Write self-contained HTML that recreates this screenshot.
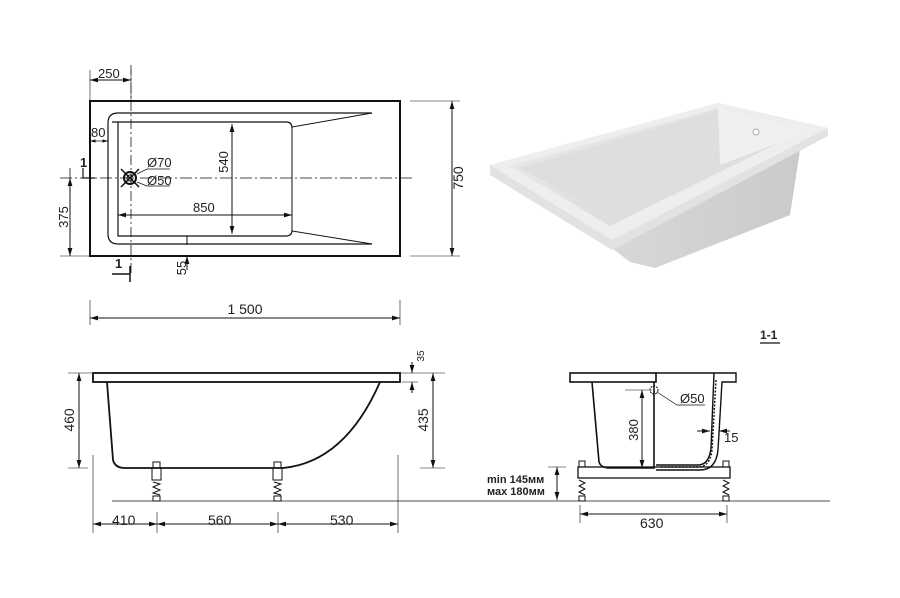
<!DOCTYPE html>
<html><head><meta charset="utf-8"><style>
html,body{margin:0;padding:0;background:#fff;}
svg{display:block;}
text{font-family:"Liberation Sans",Arial,sans-serif;fill:#222;}
</style></head><body>
<svg width="900" height="598" viewBox="0 0 900 598" xmlns="http://www.w3.org/2000/svg">
<defs>
<marker id="a" viewBox="0 0 10 10" refX="10" refY="5" markerWidth="8" markerHeight="8" orient="auto-start-reverse"><path d="M0,2 L10,5 L0,8 z" fill="#111"/></marker>
<linearGradient id="g1" x1="0" y1="0" x2="1" y2="1"><stop offset="0" stop-color="#ebebeb"/><stop offset="1" stop-color="#d6d6d6"/></linearGradient>
<linearGradient id="g2" x1="0" y1="0" x2="1" y2="0"><stop offset="0" stop-color="#d8d8d8"/><stop offset="1" stop-color="#c8c8c8"/></linearGradient>
</defs>
<rect width="900" height="598" fill="#fff"/>

<!-- PHOTO -->
<path d="M612,248 L630,262 L655,268 L790,215 L800,150 L828,135 L612,248 z" fill="url(#g2)"/>
<path d="M490,165 L718,103 L828,128 L828,136 L612,250 L490,175 z" fill="#e2e2e2"/>
<path d="M490,165 L718,103 L828,128 L612,240 z" fill="#eeeeee"/>
<path d="M510,166 L718,108 L805,130 L610,226 z" fill="url(#g1)"/>
<path d="M718,108 L720,165 L800,135 L805,130 z" fill="#f0f0f0"/>
<path d="M520,168 L718,110 L720,165 L615,218 z" fill="#dedede"/>
<circle cx="756" cy="132" r="3" fill="#fff" stroke="#aaa" stroke-width="1"/>

<g stroke="#111" fill="none" stroke-width="1">
<!-- PLAN VIEW -->
<rect x="90" y="101" width="310" height="155" stroke-width="2"/>
<path d="M372,113 L118,113 Q108,113 108,123 L108,234 Q108,244 118,244 L372,244" stroke-width="1.2"/>
<path d="M372,113 L292,127 L292,231 L372,244" stroke-width="1"/>
<path d="M112,122 L286,122 Q292,122 292,128 M118,122 L118,236 L286,236 Q292,236 292,230" stroke-width="1.2"/>
<path d="M60,178 L415,178" stroke-dasharray="12,3,2,3" stroke-width="0.8"/>
<path d="M131,65 L131,275" stroke-dasharray="10,3,2,3" stroke-width="0.8"/>
<circle cx="130" cy="178" r="6" stroke-width="2"/>
<circle cx="130" cy="178" r="3"/>
<path d="M121,169 L139,187 M139,169 L121,187" stroke-width="1.5"/>
<path d="M137,174 L147,169 L170,169 M137,182 L147,186 L170,186" stroke-width="0.7"/>
<path d="M90,70 L90,100 M131,70 L131,100" stroke-width="0.6"/>
<path d="M90,80 L131,80" marker-start="url(#a)" marker-end="url(#a)"/>
<path d="M410,101 L460,101 M410,256 L460,256" stroke-width="0.6"/>
<path d="M452,101 L452,256" marker-start="url(#a)" marker-end="url(#a)"/>
<path d="M90,300 L90,325 M400,300 L400,325" stroke-width="0.6"/>
<path d="M90,318 L400,318" marker-start="url(#a)" marker-end="url(#a)"/>
<path d="M60,256 L90,256" stroke-width="0.6"/>
<path d="M70,178 L70,256" marker-start="url(#a)" marker-end="url(#a)"/>
<path d="M70,178 L70,168" stroke-width="0.8"/>
<path d="M232,124 L232,234" marker-start="url(#a)" marker-end="url(#a)"/>
<path d="M118,215 L292,215" marker-start="url(#a)" marker-end="url(#a)"/>
<path d="M187,236 L187,245 M187,270 L187,256" marker-end="url(#a)"/>
<path d="M90,141 L108,141" marker-start="url(#a)" marker-end="url(#a)" stroke-width="0.7"/>
<path d="M83,168 L83,178 L95,178" stroke-width="1.2"/>
<path d="M112,274 L130,274 M130,266 L130,282" stroke-width="1.5"/>

<!-- SIDE VIEW -->
<rect x="93" y="373" width="307" height="9" stroke-width="1.8"/>
<path d="M107,382 L113,460 Q115,468 125,468 L283,468 Q345,462 380,382" stroke-width="1.8"/>
<path d="M112,501 L830,501" stroke-width="0.8"/>
<g stroke-width="1">
<rect x="153" y="462" width="7" height="6"/><rect x="152" y="468" width="9" height="12"/><path d="M153,482 L160,484 L153,487 L160,490 L153,493 L160,495"/><rect x="153" y="496" width="7" height="5"/>
<rect x="274" y="462" width="7" height="6"/><rect x="273" y="468" width="9" height="12"/><path d="M274,482 L281,484 L274,487 L281,490 L274,493 L281,495"/><rect x="274" y="496" width="7" height="5"/>
</g>
<path d="M93,455 L93,533 M398,455 L398,533 M157,512 L157,533 M278,512 L278,533" stroke-width="0.6"/>
<path d="M93,524 L157,524" marker-start="url(#a)" marker-end="url(#a)"/>
<path d="M157,524 L278,524" marker-start="url(#a)" marker-end="url(#a)"/>
<path d="M278,524 L398,524" marker-start="url(#a)" marker-end="url(#a)"/>
<path d="M68,373 L92,373 M68,468 L88,468" stroke-width="0.6"/>
<path d="M79,373 L79,468" marker-start="url(#a)" marker-end="url(#a)"/>
<path d="M400,373 L445,373 M420,468 L445,468 M402,382 L418,382" stroke-width="0.6"/>
<path d="M433,373 L433,468" marker-start="url(#a)" marker-end="url(#a)"/>
<path d="M412,362 L412,373" marker-end="url(#a)"/>
<path d="M412,393 L412,382" marker-end="url(#a)"/>

<!-- SECTION -->
<rect x="570" y="373" width="86" height="9" stroke-width="1.6"/>
<path d="M592,382 L599,462 Q601,468 610,468 L654,468 L654,382" stroke-width="1.6"/>
<path d="M656,373 L714,373 M714,373 L736,373 L736,382 L722,382 L718,450 Q716,470 700,470 L656,470 M714,373 L711,448 Q709,465 698,465 L656,465" stroke-width="1.4"/>
<path d="M716,380 L712,450 Q710,467 698,467 L660,467" stroke-dasharray="2,1.5" stroke-width="1.4"/>
<circle cx="654" cy="390" r="4" stroke-dasharray="2,1"/>
<path d="M657,392 L677,405 L705,405" stroke-width="0.7"/>
<rect x="578" y="467" width="152" height="11" stroke-width="1.3"/>
<rect x="579" y="461" width="6" height="6"/><rect x="723" y="461" width="6" height="6"/>
<path d="M579,480 L585,483 L579,486 L585,489 L579,492 L585,495 M723,480 L729,483 L723,486 L729,489 L723,492 L729,495"/>
<rect x="579" y="496" width="6" height="5"/><rect x="723" y="496" width="6" height="5"/>
<path d="M580,505 L580,523 M727,505 L727,523" stroke-width="0.6"/>
<path d="M580,514 L727,514" marker-start="url(#a)" marker-end="url(#a)"/>
<path d="M548,467 L566,467" stroke-width="0.6"/>
<path d="M557,467 L557,500" marker-start="url(#a)" marker-end="url(#a)"/>
<path d="M625,390 L652,390" stroke-width="0.6"/>
<path d="M642,390 L642,468" marker-start="url(#a)" marker-end="url(#a)"/>
<path d="M697,431 L710,431" marker-end="url(#a)"/>
<path d="M730,431 L719,431" marker-end="url(#a)"/>
<path d="M760,343 L780,343" stroke-width="1.2"/>
</g>

<!-- TEXT -->
<g font-size="13">
<text x="98" y="78">250</text>
<text x="91" y="137">80</text>
<text x="147" y="167">Ø70</text>
<text x="147" y="185">Ø50</text>
<text x="193" y="212">850</text>
<text transform="translate(228,162) rotate(-90)" text-anchor="middle">540</text>
<text x="80" y="167" font-weight="bold">1</text>
<text x="115" y="268" font-weight="bold">1</text>
<text transform="translate(186,268) rotate(-90)" text-anchor="middle">55</text>
<text transform="translate(68,217) rotate(-90)" text-anchor="middle">375</text>
<text transform="translate(463,178) rotate(-90)" text-anchor="middle" font-size="14">750</text>
<text x="245" y="314" font-size="14" text-anchor="middle">1 500</text>
<text transform="translate(74,420) rotate(-90)" text-anchor="middle" font-size="14">460</text>
<text transform="translate(428,420) rotate(-90)" text-anchor="middle" font-size="14">435</text>
<text transform="translate(424,356) rotate(-90)" text-anchor="middle" font-size="10">35</text>
<text x="112" y="525" font-size="14">410</text>
<text x="208" y="525" font-size="14">560</text>
<text x="330" y="525" font-size="14">530</text>
<text x="760" y="339" font-weight="bold" font-size="12">1-1</text>
<text x="680" y="403">Ø50</text>
<text transform="translate(638,430) rotate(-90)" text-anchor="middle">380</text>
<text x="724" y="442">15</text>
<text x="487" y="483" font-weight="bold" font-size="11">min 145мм</text>
<text x="487" y="495" font-weight="bold" font-size="11">мах 180мм</text>
<text x="640" y="528" font-size="14">630</text>
</g>
</svg>
</body></html>
